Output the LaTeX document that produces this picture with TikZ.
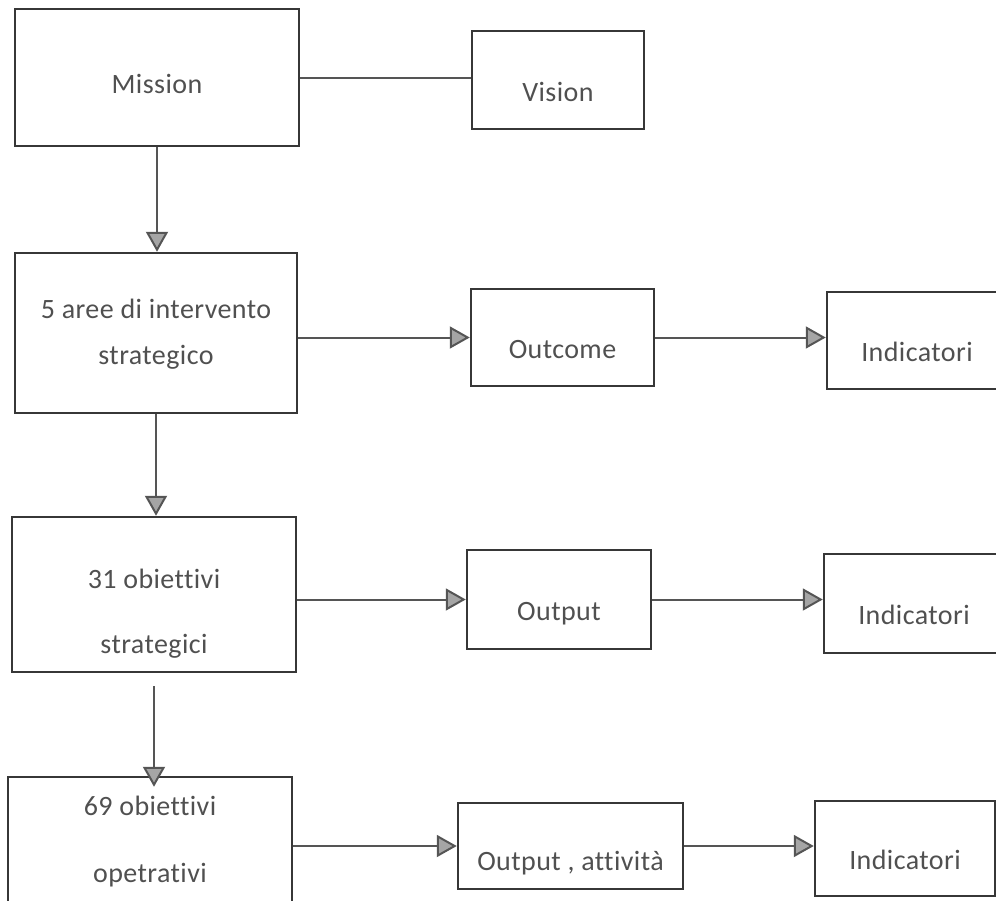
\documentclass[tikz,border=0pt]{standalone}
\usepackage{fontspec}
\setmainfont{Carlito}[Ligatures=NoCommon, LetterSpace=1.5]
\usepackage{tikz}
\usetikzlibrary{arrows.meta, positioning, calc}
\definecolor{scangray}{RGB}{55, 55, 55}
\definecolor{textgray}{RGB}{80, 80, 80}
\definecolor{tipgray}{RGB}{165, 165, 165}

\begin{document}
\begin{tikzpicture}[x=1pt, y=-1pt,
    box/.style={rectangle, draw=scangray, line width=2.5pt, text=textgray, align=center, inner sep=0pt, font=\fontsize{28}{34}\selectfont, text height=42pt, text depth=0pt},
    conn/.style={line width=2pt, color=scangray!85},
    arrow/.style={conn, -{Triangle[length=20pt, width=22pt, fill=tipgray]}}]

    \useasboundingbox (0,0) rectangle (996,900);
    \clip (0,0) rectangle (996,900);

    % Mission / Vision
    \node[box, minimum width=284pt, minimum height=137pt, text height=32pt] (mission) at (157,77.5) {Mission};
    \node[box, minimum width=172pt, minimum height=98pt] (vision) at (558,80) {Vision};

    % Aree strategiche
    \node[box, minimum width=282pt, minimum height=160pt, text height=70pt, text depth=8pt] (aree) at (156,333) {5 aree di intervento\\[12pt]strategico};
    \node[box, minimum width=183pt, minimum height=97pt] (outcome) at (562.5,337.5) {Outcome};
    \node[box, minimum width=180pt, minimum height=97pt] (ind1) at (917,340.5) {Indicatori};

    % Obiettivi strategici
    \node[box, minimum width=284pt, minimum height=155pt, text height=120pt, text depth=3pt] (obstr) at (154,594.5) {31 obiettivi\\[31pt]strategici};
    \node[box, minimum width=184pt, minimum height=99pt] (output) at (559,599.5) {Output};
    \node[box, minimum width=180pt, minimum height=99pt] (ind2) at (914,603.5) {Indicatori};

    % Obiettivi operativi
    \node[box, minimum width=284pt, minimum height=155pt, text height=60pt, text depth=5pt] (obop) at (150,854.5) {69 obiettivi\\[33pt]opetrativi};
    \node[box, minimum width=225pt, minimum height=86pt, text height=48pt] (outatt) at (570.5,846) {Output , attività};
    \node[box, minimum width=180pt, minimum height=95pt] (ind3) at (905,848.5) {Indicatori};

    % Links
    \draw[conn] (mission.east) -- (mission.east -| vision.west);
    \draw[arrow] (mission.south) -- (mission.south |- aree.north);
    \draw[arrow] (aree.east |- outcome) -- (outcome);
    \draw[arrow] (outcome.east) -- (outcome.east -| ind1.west);
    \draw[arrow] (aree.south) -- (aree.south |- obstr.north);
    \draw[arrow] (obstr.east |- output) -- (output);
    \draw[arrow] (output.east) -- (output.east -| ind2.west);
    \draw[arrow, shorten <=13pt, shorten >=-11pt] (obstr.south) -- (obstr.south |- obop.north);
    \draw[arrow] (obop.east |- outatt) -- (outatt);
    \draw[arrow] (outatt.east) -- (outatt.east -| ind3.west);
\end{tikzpicture}
\end{document}
